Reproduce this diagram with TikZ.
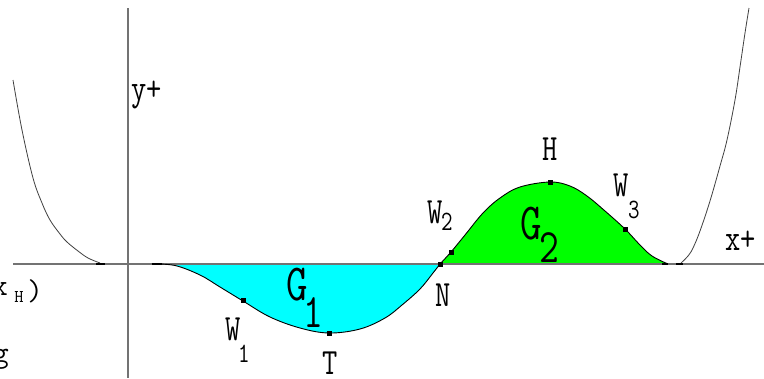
\documentclass[tikz,border=0pt]{standalone}
\usepackage{fontspec}
\newfontfamily\labfont[FakeStretch=0.8]{Latin Modern Mono}
\newfontfamily\plainmono{Latin Modern Mono}
\definecolor{aquafill}{RGB}{0,255,255}
\definecolor{limefill}{RGB}{0,255,0}
\begin{document}
\begin{tikzpicture}[x=1pt,y=-1pt,
  lab/.style={inner sep=0pt,anchor=base,font={\labfont\fontsize{37}{37}\selectfont}},
  sublab/.style={inner sep=0pt,anchor=base,font={\labfont\fontsize{28}{28}\selectfont}},
  biglab/.style={inner sep=0pt,anchor=base,font={\labfont\fontsize{52}{52}\selectfont}},
  bigsub/.style={inner sep=0pt,anchor=base,font={\labfont\fontsize{48}{48}\selectfont}},
  edgetext/.style={inner sep=0pt,anchor=base,font={\plainmono\fontsize{30}{30}\selectfont}},
  axisline/.style={draw=black!55,line width=1.5pt},
  curveline/.style={draw=black,line width=0.9pt},
  outercurve/.style={draw=black!75,line width=0.8pt},
  pt/.style={fill=black,rectangle,minimum size=5pt,inner sep=0pt},
  stub/.style={draw=black,line width=2pt}
]
\useasboundingbox (0,0) rectangle (764,378);
\clip (0,0) rectangle (764,378);
\fill[white] (0,0) rectangle (764,378);

% filled lobes
\fill[aquafill] plot[smooth,tension=0.6] coordinates {(152,264) (175,265.5) (200,275) (220,287) (243,301) (270,317) (300,328) (329,333) (360,329) (385,318) (402,305) (420,289) (433,273) (440,264)} -- cycle;
\fill[limefill] plot[smooth,tension=0.6] coordinates {(440,264) (451,252) (465,235) (483,213) (500,198) (520,187) (550,182) (570,186) (587,196) (605,211) (625,229) (640,245) (652,256) (668,264)} -- cycle;

% axes
\coordinate (xa) at (13,264);
\coordinate (xb) at (764,264);
\coordinate (ya) at (128,8);
\coordinate (yb) at (128,378);
\draw[axisline] (xa) -- (xb);
\draw[axisline] (ya) -- (yb);

% curves
\draw[curveline] plot[smooth,tension=0.6] coordinates {(152,264) (175,265.5) (200,275) (220,287) (243,301) (270,317) (300,328) (329,333) (360,329) (385,318) (402,305) (420,289) (433,273) (440,264)};
\draw[curveline] plot[smooth,tension=0.6] coordinates {(440,264) (451,252) (465,235) (483,213) (500,198) (520,187) (550,182) (570,186) (587,196) (605,211) (625,229) (640,245) (652,256) (668,264)};
\draw[outercurve] plot[smooth,tension=0.6] coordinates {(13,80) (22,130) (33,178) (42,203) (50,220) (60,234) (67,242) (78,251) (88,258) (100,263)};
\draw[outercurve] plot[smooth,tension=0.6] coordinates {(680,264) (688,256) (693,248) (700,231) (710,201) (720,166) (727,140) (735,100) (740,67) (745,33) (749,8)};

% short stubs on the axis
\draw[stub] (96,263.5) -- (105,263.5);
\draw[stub] (152,264) -- (162,264);
\draw[stub] (662,263.5) -- (668,263.5);
\draw[stub] (676,263.5) -- (683,263.5);

% points
\node[pt] (W1) at (243,300) {};
\node[pt] (T) at (329,333) {};
\node[pt] (N) at (440,264) {};
\node[pt] (W2) at (451,252) {};
\node[pt] (H) at (550,182) {};
\node[pt] (W3) at (625,229) {};

% labels
\node[lab,anchor=base west] (ylab) at (131,100) {y+};
\node[lab,anchor=base west] (xlab) at (725,250) {x+};
\node[lab] (Hl) at (550,160) {H};
\node[lab] (Nl) at (443,306) {N};
\node[lab] (Tl) at (330,374) {T};
\node[lab] (W1l) at (233,340) {W};
\node[sublab] (W1s) at (244,362) {1};
\node[lab] (W2l) at (435,223) {W};
\node[sublab] (W2s) at (447,230) {2};
\node[lab] (W3l) at (621,196) {W};
\node[sublab] (W3s) at (634,218) {3};
\node[biglab] (G1l) at (297,300) {G};
\node[bigsub] (G1s) at (313,327) {1};
\node[biglab] (G2l) at (531,239) {G};
\node[bigsub] (G2s) at (549,262) {2};

% clipped text at the left edge
\node[edgetext] (ex) at (0,295) {x};
\node[inner sep=0pt,anchor=base,font={\plainmono\fontsize{18}{18}\selectfont}] (eh) at (19,302) {H};
\node[edgetext] (ep) at (35,300) {)};
\node[edgetext] (eg) at (1,362) {g};
\end{tikzpicture}
\end{document}
